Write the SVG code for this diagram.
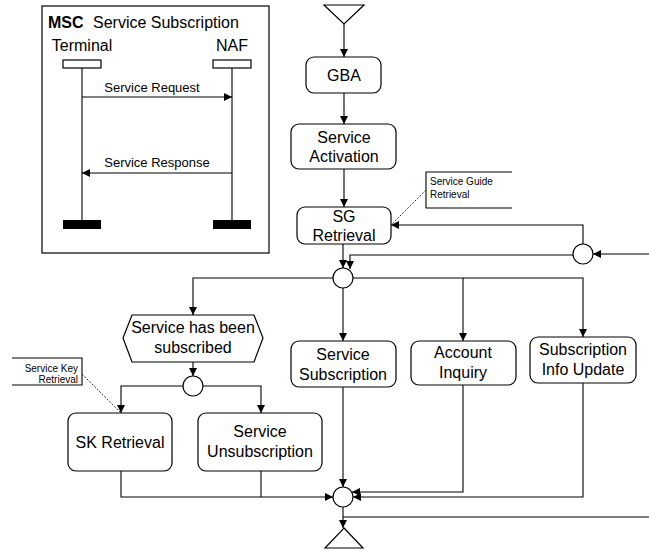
<svg xmlns="http://www.w3.org/2000/svg" width="649" height="551" viewBox="0 0 649 551">
  <style>
    .box { fill: #fff; stroke: #000; stroke-width: 1.2; }
    .ln { fill: none; stroke: #000; stroke-width: 1.1; }
    .dash { fill: none; stroke: #000; stroke-width: 0.8; stroke-dasharray: 2 1.5; }
    .t { font-family: "Liberation Sans", Arial, sans-serif; font-size: 16px; fill: #000; text-anchor: middle; }
    .msg { font-family: "Liberation Sans", Arial, sans-serif; font-size: 13px; fill: #000; text-anchor: middle; }
    .note { font-family: "Liberation Sans", Arial, sans-serif; font-size: 10px; fill: #000; }
  </style>
  <defs>
    <marker id="ah" viewBox="0 0 10 10" refX="10" refY="5" markerWidth="8" markerHeight="8" markerUnits="userSpaceOnUse" orient="auto">
      <path d="M0,0 L10,5 L0,10 Z" fill="#000"/>
    </marker>
  </defs>

  <!-- Message sequence chart -->
  <g id="msc">
    <rect x="42" y="6" width="227" height="247" fill="#fff" stroke="#000" stroke-width="1.2"/>
    <text x="48" y="28" font-family="Liberation Sans, Arial, sans-serif" font-size="16" font-weight="bold">MSC</text>
    <text x="93" y="28" font-family="Liberation Sans, Arial, sans-serif" font-size="16">Service Subscription</text>
    <text x="82" y="51" class="t">Terminal</text>
    <text x="232" y="51" class="t">NAF</text>
    <rect x="63" y="60" width="38" height="8" class="box"/>
    <rect x="213" y="60" width="38" height="8" class="box"/>
    <line x1="82" y1="68" x2="82" y2="220" class="ln"/>
    <line x1="232" y1="68" x2="232" y2="220" class="ln"/>
    <rect x="63" y="220" width="38" height="9" fill="#000"/>
    <rect x="213" y="220" width="38" height="9" fill="#000"/>
    <text x="152" y="92" class="msg">Service Request</text>
    <line x1="82" y1="97" x2="232" y2="97" class="ln" marker-end="url(#ah)"/>
    <text x="157" y="167" class="msg">Service Response</text>
    <line x1="232" y1="173" x2="82" y2="173" class="ln" marker-end="url(#ah)"/>
  </g>

  <!-- Flow nodes -->
  <g id="start"><polygon points="324,5 364,5 344,24" class="box"/></g>
  <g id="gba">
    <rect x="306" y="57" width="75" height="36" rx="8" class="box"/>
    <text x="344" y="81" class="t">GBA</text>
  </g>
  <g id="service-activation">
    <rect x="291" y="124" width="105" height="45" rx="8" class="box"/>
    <text x="344" y="143" class="t">Service</text>
    <text x="344" y="162" class="t">Activation</text>
  </g>
  <g id="sg-retrieval">
    <rect x="297" y="207" width="94" height="37" rx="8" class="box"/>
    <text x="344" y="222" class="t">SG</text>
    <text x="344" y="241" class="t">Retrieval</text>
  </g>
  <g id="note-sg">
    <path d="M512,172 H426 V208 H512" class="ln" stroke-width="0.8"/>
    <text x="430" y="185" class="note">Service Guide</text>
    <text x="430" y="198" class="note">Retrieval</text>
  </g>
  <g id="loop-junction"><circle cx="583" cy="254" r="10" class="box"/></g>
  <g id="main-junction"><circle cx="343" cy="278" r="10" class="box"/></g>
  <g id="subscribed">
    <polygon points="123,338 132,315 254,315 263,338 254,362 132,362" class="box"/>
    <text x="193" y="333" class="t">Service has been</text>
    <text x="193" y="353" class="t">subscribed</text>
  </g>
  <g id="service-subscription">
    <rect x="291" y="341" width="105" height="46" rx="8" class="box"/>
    <text x="343" y="360" class="t">Service</text>
    <text x="343" y="380" class="t">Subscription</text>
  </g>
  <g id="account-inquiry">
    <rect x="411" y="341" width="105" height="44" rx="8" class="box"/>
    <text x="463" y="358" class="t">Account</text>
    <text x="463" y="378" class="t">Inquiry</text>
  </g>
  <g id="info-update">
    <rect x="530" y="337" width="106" height="46" rx="8" class="box"/>
    <text x="583" y="355" class="t">Subscription</text>
    <text x="583" y="375" class="t">Info Update</text>
  </g>
  <g id="sub-junction"><circle cx="193" cy="386" r="10" class="box"/></g>
  <g id="note-sk">
    <path d="M12,358 H82 V385 H12" class="ln" stroke-width="0.8"/>
    <text x="78" y="372" class="note" text-anchor="end">Service Key</text>
    <text x="78" y="383" class="note" text-anchor="end">Retrieval</text>
  </g>
  <g id="sk-retrieval">
    <rect x="68" y="413" width="104" height="58" rx="8" class="box"/>
    <text x="120" y="448" class="t">SK Retrieval</text>
  </g>
  <g id="service-unsubscription">
    <rect x="198" y="413" width="124" height="58" rx="8" class="box"/>
    <text x="260" y="437" class="t">Service</text>
    <text x="260" y="457" class="t">Unsubscription</text>
  </g>
  <g id="merge-junction"><circle cx="343" cy="497" r="10" class="box"/></g>
  <g id="end"><polygon points="344,528 363,548 325,548" class="box"/></g>

  <!-- Connectors -->
  <g id="connectors">
    <line x1="344" y1="24" x2="344" y2="57" class="ln" marker-end="url(#ah)"/>
    <line x1="344" y1="93" x2="344" y2="124" class="ln" marker-end="url(#ah)"/>
    <line x1="344" y1="169" x2="344" y2="207" class="ln" marker-end="url(#ah)"/>
    <line x1="343" y1="244" x2="343" y2="268" class="ln" marker-end="url(#ah)"/>
    <path d="M583,244 V225 H391" class="ln" marker-end="url(#ah)"/>
    <line x1="649" y1="254" x2="593" y2="254" class="ln" marker-end="url(#ah)"/>
    <path d="M573,255 H350 V269" class="ln" marker-end="url(#ah)"/>
    <line x1="426" y1="190" x2="392" y2="224" class="dash"/>
    <path d="M333,278 H193 V315" class="ln" marker-end="url(#ah)"/>
    <line x1="343" y1="288" x2="343" y2="341" class="ln" marker-end="url(#ah)"/>
    <path d="M353,278 H583 V337" class="ln" marker-end="url(#ah)"/>
    <line x1="463" y1="278" x2="463" y2="341" class="ln" marker-end="url(#ah)"/>
    <line x1="193" y1="362" x2="193" y2="376" class="ln" marker-end="url(#ah)"/>
    <path d="M183,386 H121 V413" class="ln" marker-end="url(#ah)"/>
    <path d="M203,386 H261 V413" class="ln" marker-end="url(#ah)"/>
    <line x1="82" y1="374" x2="120" y2="412" class="dash"/>
    <path d="M121,471 V497 H333" class="ln" marker-end="url(#ah)"/>
    <line x1="261" y1="471" x2="261" y2="497" class="ln"/>
    <line x1="343" y1="387" x2="343" y2="487" class="ln" marker-end="url(#ah)"/>
    <path d="M463,385 V492 H352" class="ln" marker-end="url(#ah)"/>
    <path d="M583,383 V497 H353" class="ln" marker-end="url(#ah)"/>
    <line x1="343" y1="507" x2="343" y2="528" class="ln" marker-end="url(#ah)"/>
    <line x1="343" y1="517" x2="649" y2="517" class="ln"/>
  </g>
</svg>
